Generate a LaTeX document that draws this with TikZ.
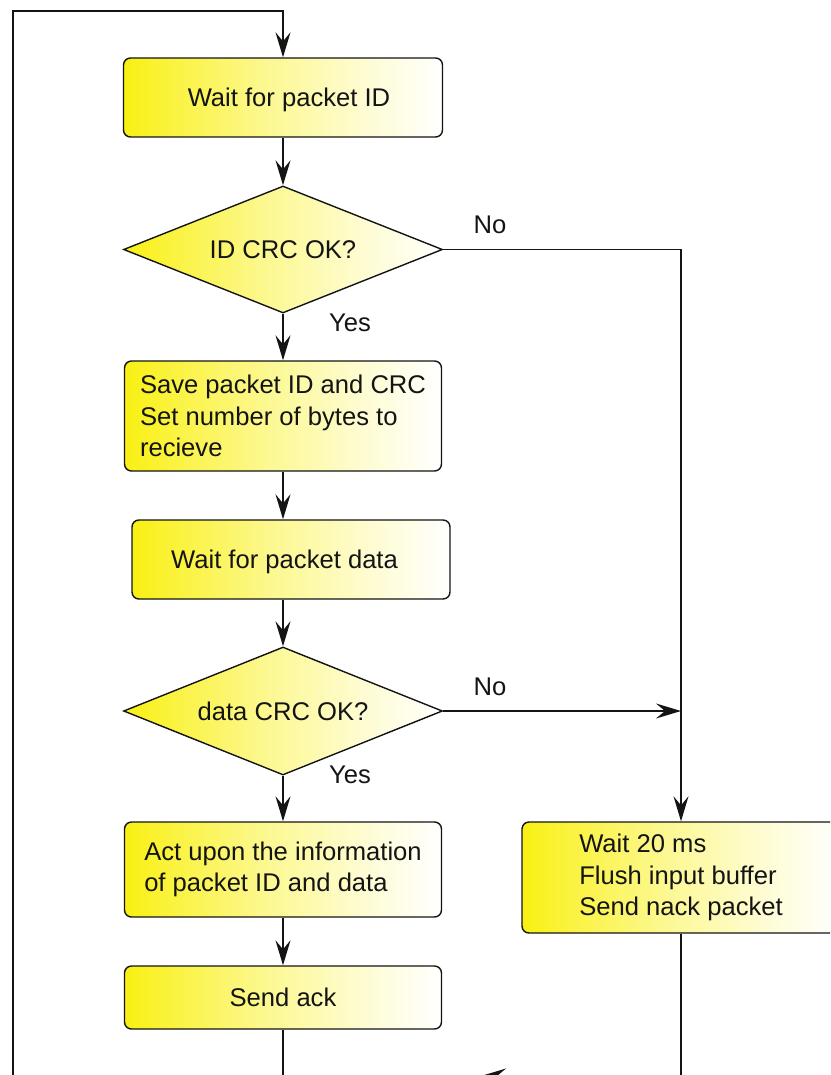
\documentclass[tikz,border=0pt]{standalone}
\usepackage{fontspec}
\setmainfont{Liberation Sans}
\usetikzlibrary{shapes.geometric,arrows.meta}

\definecolor{ylw}{RGB}{249,240,18}
\definecolor{ink}{RGB}{20,20,20}
% yellow fading to white from left to right (25bp..75bp spans the shape)
\pgfdeclarehorizontalshading{ylwfade}{100bp}{%
  color(0bp)=(ylw); color(25bp)=(ylw); color(33bp)=(ylw!80!white);
  color(48bp)=(ylw!45!white); color(62bp)=(ylw!20!white);
  color(75bp)=(white); color(100bp)=(white)}

\tikzset{
  txt/.style={font=\fontsize{25.6}{31.5}\selectfont, text=ink},
  procbox/.style={txt, draw=ink, line width=1.4pt, rounded corners=7pt,
    shade, shading=ylwfade, shading angle=0, align=left, inner sep=0pt},
  decision/.style={txt, draw=ink, line width=1.4pt, diamond, aspect=2.5,
    shade, shading=ylwfade, shading angle=0, inner sep=0pt},
  conn/.style={draw=ink, line width=1.6pt},
  arr/.style={conn, -{Stealth[length=25pt, width=15pt, inset=9pt]}},
  lbl/.style={txt, inner sep=0pt}
}

\begin{document}
\begin{tikzpicture}[x=1pt, y=-1pt]
\useasboundingbox (0,0) rectangle (830,1075);
\clip (0,0) rectangle (830,1075);

% main column
\node[procbox, text depth=0pt, minimum width=319pt, minimum height=79pt] (b1) at (283,97.5)
  {\hspace*{12pt}Wait for packet ID};
\node[decision, minimum width=319pt, minimum height=127pt] (d1) at (283,249.5) {ID CRC OK?};
\node[procbox, minimum width=317pt, minimum height=110pt] (b2) at (283,416)
  {Save packet ID and CRC\\Set number of bytes to\\recieve};
\node[procbox, text depth=0pt, minimum width=318pt, minimum height=79pt] (b3) at (291,559.5)
  {Wait for packet data\hspace*{13pt}};
\node[decision, minimum width=319pt, minimum height=128pt] (d2) at (283,711) {data CRC OK?};
\node[procbox, minimum width=317pt, minimum height=95pt] (b4) at (283,869.5)
  {Act upon the information\\of packet ID and data};
\node[procbox, minimum width=317pt, minimum height=63pt] (b5) at (283,997.5) {Send ack};

% error branch
\node[procbox, minimum width=318pt, minimum height=111pt] (rb) at (681,877.5)
  {Wait 20 ms\\Flush input buffer\\Send nack packet};

% branch labels
\node[lbl] (no1) at (490,225) {No};
\node[lbl] (yes1) at (350,323) {Yes};
\node[lbl] (no2) at (490,687) {No};
\node[lbl] (yes2) at (350,775) {Yes};

% loop-back helper points
\coordinate (jl) at (13,1076);
\coordinate (tl) at (13,11);
\coordinate (ah) at (481,1076);

% connectors down the main column
\draw[arr] (b1.south) -- (d1.north);
\draw[arr] (d1.south) -- (b2.north);
\draw[arr] (b2.south) -- (b2.south |- b3.north);
\draw[arr] (b2.south |- b3.south) -- (d2.north);
\draw[arr] (d2.south) -- (b4.north);
\draw[arr] (b4.south) -- (b5.north);

% failure paths
\draw[arr] (d1.east) -| (rb.north);
\draw[arr] (d2.east) -- (d2.east -| rb.north);

% return to the start
\draw[conn] (b5.south) -- (b5.south |- jl);
\draw[arr] (rb.south) |- (ah);
\draw[conn] (ah) -- (jl);
\draw[arr] (jl) -- (tl) -| (b1.north);
\end{tikzpicture}
\end{document}
